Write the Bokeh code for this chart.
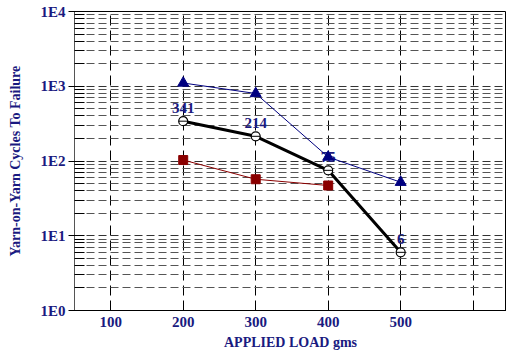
from bokeh.plotting import figure
from bokeh.models import FixedTicker, Range1d
from bokeh.core.properties import value
from bokeh.embed import file_html
from bokeh.resources import INLINE

loads = [200, 300, 400, 500]
blue_vals = [1105, 800, 113, 52]
black_vals = [341, 214, 75, 6]
red_loads = [200, 300, 400]
red_vals = [103, 57, 47]
black_labels = ["341", "214", "75", "6"]

x_ticks = [100, 200, 300, 400, 500, 600]
x_labels = {100: "100", 200: "200", 300: "300", 400: "400", 500: "500", 600: ""}
y_ticks = [1, 10, 100, 1000, 10000]
y_labels = {1: "1E0", 10: "1E1", 100: "1E2", 1000: "1E3", 10000: "1E4"}
y_minor = [m * d for d in [1, 10, 100, 1000] for m in range(2, 10)]

NAVY = "#1a1a80"
FONT = "Liberation Serif"

p = figure(width=506, height=355, y_axis_type="log", output_backend="svg",
           toolbar_location=None, x_range=Range1d(50, 646), y_range=Range1d(1, 10000),
           min_border_left=74, min_border_right=0, min_border_top=11, min_border_bottom=45)
p.outline_line_color = "black"
p.outline_line_width = 1
p.background_fill_color = "white"
p.border_fill_color = "white"

p.xaxis.ticker = FixedTicker(ticks=x_ticks)
p.xaxis.major_label_overrides = x_labels
p.yaxis.ticker = FixedTicker(ticks=y_ticks, minor_ticks=y_minor)
p.yaxis.major_label_overrides = y_labels

for ax in [p.xaxis[0], p.yaxis[0]]:
    ax.major_label_text_font = FONT
    ax.major_label_text_font_style = "bold"
    ax.major_label_text_font_size = "15px"
    ax.major_label_text_color = NAVY
    ax.axis_label_text_font = FONT
    ax.axis_label_text_font_style = "bold"
    ax.axis_label_text_font_size = "14px"
    ax.axis_label_text_color = NAVY
    ax.axis_line_color = "#555555"
    ax.major_tick_line_color = "black"

p.xaxis.axis_label = "APPLIED LOAD gms"
p.yaxis.axis_label = "Yarn-on-Yarn Cycles To Failure"
p.xaxis.axis_line_color = "black"
p.xaxis.major_tick_in = 6
p.xaxis.major_tick_out = 0
p.xaxis.minor_tick_line_color = None
p.xaxis.major_label_standoff = 6
p.xaxis.axis_label_standoff = 5
p.yaxis.major_tick_in = 10
p.yaxis.major_tick_out = 6
p.yaxis.minor_tick_in = 10
p.yaxis.minor_tick_out = 0
p.yaxis.minor_tick_line_color = "black"
p.yaxis.major_label_standoff = 3
p.yaxis.axis_label_standoff = 14

p.xgrid.grid_line_color = "black"
p.xgrid.grid_line_dash = "10 5"
p.xgrid.grid_line_width = 1
p.ygrid.grid_line_color = "#333333"
p.ygrid.grid_line_dash = "8 4"
p.ygrid.minor_grid_line_color = "#555555"
p.ygrid.minor_grid_line_dash = "8 4"

# red squares
p.line(red_loads, red_vals, line_color="#8b0000", line_width=1)
p.scatter(red_loads, red_vals, marker="square", size=9, fill_color="#8b0000", line_color="#8b0000")
# black circles
p.line(loads, black_vals, line_color="black", line_width=3)
p.scatter(loads, black_vals, marker="circle", size=9, fill_color="white", line_color="black", line_width=1.2)
p.scatter(loads, black_vals, marker="dash", size=9, line_color="black", line_width=1)
p.text(loads, black_vals, text=black_labels, text_font=value(FONT), text_align="center",
       text_baseline="bottom", y_offset=-8, text_font_size="15px", text_font_style="bold",
       text_color=NAVY)
# blue triangles
p.line(loads, blue_vals, line_color="#000080", line_width=1)
p.scatter(loads, blue_vals, marker="triangle", size=11, fill_color="#000080", line_color="#000080")

open("out.html", "w").write(file_html(p, INLINE))
